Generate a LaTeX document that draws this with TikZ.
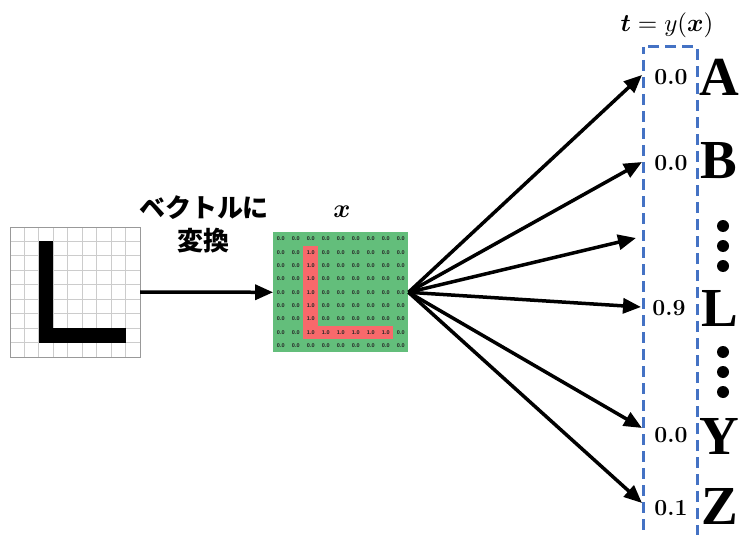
\documentclass[tikz,border=0pt]{standalone}
\usepackage{fontspec}
\usepackage{bm}
\setsansfont{Liberation Sans}
\newfontfamily\jpfont{Noto Sans CJK JP}
\newfontfamily\capfont{Liberation Serif}
\usetikzlibrary{arrows.meta}

\definecolor{cellgreen}{HTML}{63BE7B}
\definecolor{cellred}{HTML}{F8696B}
\definecolor{boxblue}{HTML}{4472C4}

\begin{document}
\begin{tikzpicture}[x=1pt,y=-1pt,
  e/.style={draw,line width=3.5pt,-{Triangle[length=18pt,width=15pt]}},
  v/.style={inner sep=0pt,font=\bfseries\fontsize{23}{23}\selectfont},
  c/.style={inner sep=0pt,anchor=west,font=\capfont\bfseries\fontsize{55}{55}\selectfont},
  d/.style={fill=black,circle,inner sep=0pt,minimum size=12pt},
  num/.style={inner sep=0pt,text=black!85,font=\sffamily\bfseries\fontsize{5.5}{5.5}\selectfont}]

\useasboundingbox (0,0) rectangle (740,535);
\clip (0,0) rectangle (740,535);

% pixel image of the letter
\node[minimum size=130pt,inner sep=0pt] (img) at (75,292) {};
\begin{scope}[shift={(10,227)},x=14.444pt,y=-14.444pt]
  \foreach \i in {1,...,8} {
    \draw[black!20,line width=0.8pt] (\i,0) -- (\i,9);
    \draw[black!20,line width=0.8pt] (0,\i) -- (9,\i);
  }
  \draw[black!40,line width=0.8pt] (0,0) rectangle (9,9);
  \fill (2,1) rectangle (3,8);
  \fill (2,7) rectangle (8,8);
\end{scope}

% the same letter as a table of values
\node[minimum width=135pt,minimum height=120pt,inner sep=0pt] (vec) at (340.8,292.3) {};
\begin{scope}[shift={(273.3,232.3)},x=15pt,y=-13.333pt]
  \fill[cellgreen] (0,0) rectangle (9,9);
  \fill[cellred] (2,1) rectangle (3,8);
  \fill[cellred] (2,7) rectangle (8,8);
  \foreach \r in {0,...,8}
    \foreach \c in {0,...,8} {
      \pgfmathtruncatemacro\one{(\c==2 && \r>0 && \r<8) || (\r==7 && \c>1 && \c<8)}
      \node[num] at (\c+0.5,\r+0.5) {\ifnum\one=1 1.0\else 0.0\fi};
    }
\end{scope}
\node[scale=2.6] (xlab) at (342,212) {$\bm{x}$};

\node[align=center,font=\jpfont\bfseries\fontsize{26}{33}\selectfont] (conv) at (204,224) {ベクトルに\\変換};
\path[e] (img.east) -- (vec.west);

% output column
\draw[boxblue,line width=3pt,dash pattern=on 11pt off 6pt,dash phase=4pt] (643,47) rectangle (697,560);
\node[scale=2.5] (tlab) at (667,25) {$\bm{t}=y(\bm{x})$};

\node[v] (vA) at (671,77) {0.0};
\node[v] (vB) at (671,163) {0.0};
\node[v] (vL) at (669,308) {0.9};
\node[v] (vY) at (671,435) {0.0};
\node[v] (vZ) at (671,508) {0.1};

\node[c] (A) at (699,77) {A};
\node[c] (B) at (700,161) {B};
\node[c] (L) at (701,308) {L};
\node[c] (Y) at (699,436) {Y};
\node[c] (Z) at (701,506) {Z};

\foreach \y in {226,246,266,352,372,392}
  \node[d] at (723,\y) {};

\coordinate (pA) at (642,75);
\coordinate (pB) at (642,162);
\coordinate (pC) at (636,238);
\coordinate (pL) at (641,307);
\coordinate (pY) at (642,428);
\coordinate (pZ) at (642,503);
\foreach \p in {pA,pB,pC,pL,pY,pZ}
  \path[e] (vec.east) -- (\p);

\end{tikzpicture}
\end{document}
